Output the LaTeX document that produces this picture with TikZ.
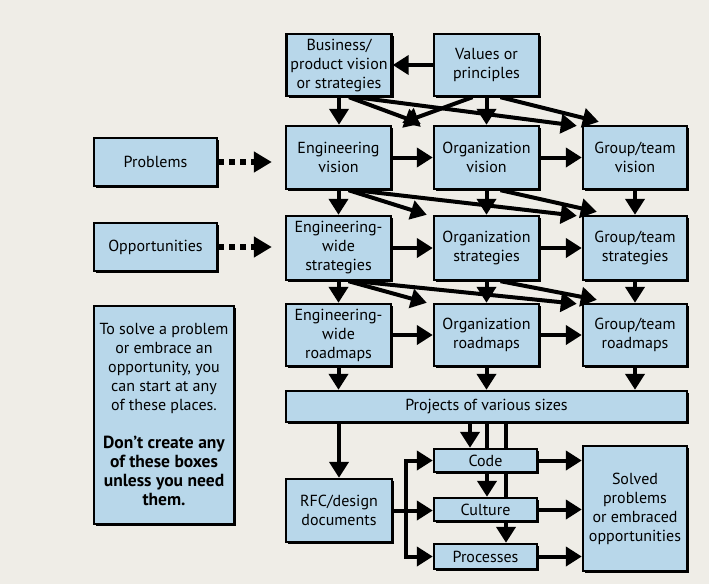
\documentclass[tikz,border=0pt]{standalone}
\usepackage{fontspec}
\setmainfont{PT Sans}
\usetikzlibrary{arrows.meta,shadows,backgrounds}
\pgfdeclarelayer{paper}
\pgfsetlayers{paper,background,main}
\definecolor{paperc}{HTML}{EFEDE7}
\definecolor{boxc}{HTML}{B8D7EA}
\newcommand\notebold[1]{{\fontsize{17.5}{19}\selectfont\bfseries #1}}
\begin{document}
\begin{tikzpicture}[x=1pt,y=-1pt,
  box/.style={draw=black, fill=boxc, line width=2.4pt, align=center, inner sep=0pt,
    font=\fontsize{16}{19}\selectfont,
    drop shadow={shadow xshift=2pt, shadow yshift=-2pt, fill=black, opacity=1}},
  sz/.style 2 args={minimum width=#1pt, minimum height=#2pt},
  arr/.style={line width=4pt, -{Triangle[width=19pt,length=16pt]}},
  dotarr/.style={line width=5.5pt, dash pattern=on 6pt off 5pt, -{Triangle[width=20pt,length=18pt]}}
]
\useasboundingbox (0,0) rectangle (709,584);
\begin{pgfonlayer}{paper}
  \fill[paperc] (0,0) rectangle (709,584);
\end{pgfonlayer}

% boxes
\node[box, sz={105}{62}] (bus) at (339,65) {Business/\\product vision\\or strategies};
\node[box, sz={105}{62}] (val) at (486.5,65) {Values or\\principles};
\node[box, sz={105}{63}] (ev) at (338.5,157.5) {Engineering\\vision};
\node[box, sz={105}{63}] (ov) at (486.5,157.5) {Organization\\vision};
\node[box, sz={104}{63}] (gv) at (635,157.5) {Group/team\\vision};
\node[box, sz={105}{64}] (es) at (338.5,248) {Engineering-\\wide\\strategies};
\node[box, sz={105}{64}] (os) at (486.5,248) {Organization\\strategies};
\node[box, sz={104}{64}] (gs) at (635,248) {Group/team\\strategies};
\node[box, sz={105}{62}] (er) at (338.5,335) {Engineering-\\wide\\roadmaps};
\node[box, sz={105}{62}] (or) at (486.5,335) {Organization\\roadmaps};
\node[box, sz={104}{62}] (gr) at (635,335) {Group/team\\roadmaps};
\node[box, sz={401}{31}] (proj) at (486.5,406.5) {Projects of various sizes};
\node[box, sz={103}{23}] (code) at (485.5,460.5) {Code};
\node[box, sz={103}{23}] (cult) at (485.5,509.5) {Culture};
\node[box, sz={103}{25}] (proc) at (485.5,556.5) {Processes};
\node[box, sz={106}{63}] (rfc) at (339,510.5) {RFC/design\\documents};
\node[box, sz={104}{125}] (solved) at (635,508.5) {Solved\\problems\\or embraced\\opportunities};
\node[box, sz={123}{48}] (prob) at (155.5,162) {Problems};
\node[box, sz={123}{48}] (opp) at (155.5,247) {Opportunities};
\node[box, sz={140}{218}] (note) at (164,415) {To solve a problem\\or embrace an\\opportunity, you\\can start at any\\of these places.\\[19pt]
  \notebold{Don’t create any}\\\notebold{of these boxes}\\\notebold{unless you need}\\\notebold{them.}};

% dotted arrows
\draw[dotarr, shorten >=13pt] (prob.east) -- (prob.east -| ev.west);
\draw[dotarr, shorten >=13pt] (opp.east) -- (opp.east -| es.west);

% top rows
\draw[arr] (val.west) -- (bus.east);
\draw[arr] (bus.south) -- (bus.south |- ev.north);
\draw[arr] (val.south) -- (val.south |- ov.north);
\draw[arr] ([xshift=10pt]bus.south) -- ([xshift=-12pt,yshift=1pt]ov.north west);
\draw[arr] ([xshift=-14pt]val.south) -- ([xshift=10pt,yshift=2pt]ev.north east);
\draw[arr] ([xshift=17pt]bus.south) -- ([xshift=-5pt,yshift=-1pt]gv.north west);
\draw[arr] ([xshift=14pt]val.south) -- ([xshift=17pt,yshift=3pt]gv.north west);

% vision row
\draw[arr] (ev.east) -- (ov.west);
\draw[arr] (ov.east) -- (gv.west);
\draw[arr] (ev.south) -- (es.north);
\draw[arr] (ov.south) -- (os.north);
\draw[arr] (gv.south) -- (gs.north);
\draw[arr] ([xshift=10pt]ev.south) -- ([xshift=-6pt]os.north west);
\draw[arr] ([xshift=17pt]ev.south) -- ([xshift=-5pt,yshift=-1pt]gs.north west);
\draw[arr] ([xshift=14pt]ov.south) -- ([xshift=15pt,yshift=3pt]gs.north west);

% strategies row
\draw[arr] (es.east) -- (os.west);
\draw[arr] (os.east) -- (gs.west);
\draw[arr] (es.south) -- (er.north);
\draw[arr] (os.south) -- (or.north);
\draw[arr] (gs.south) -- (gr.north);
\draw[arr] ([xshift=10pt]es.south) -- ([xshift=-6pt]or.north west);
\draw[arr] ([xshift=17pt]es.south) -- ([xshift=-5pt,yshift=-1pt]gr.north west);
\draw[arr] ([xshift=14pt]os.south) -- ([xshift=15pt,yshift=3pt]gr.north west);

% roadmaps row
\draw[arr] (er.east) -- (or.west);
\draw[arr] (or.east) -- (gr.west);
\draw[arr] (er.south) -- (er.south |- proj.north);
\draw[arr] (or.south) -- (or.south |- proj.north);
\draw[arr] (gr.south) -- (gr.south |- proj.north);

% projects
\draw[arr] (proj.south -| rfc.north) -- (rfc.north);
\coordinate (c0) at ([xshift=-15.5pt]code.north);
\draw[arr] (proj.south -| c0) -- (c0);
\coordinate (c1) at ([xshift=1.5pt]cult.north);
\coordinate (c2) at ([xshift=20.5pt]proc.north);
\begin{pgfonlayer}{background}
  \draw[arr] (proj.south -| c1) -- (c1);
  \draw[arr] (proj.south -| c2) -- (c2);
\end{pgfonlayer}

% RFC branches
\coordinate (br) at (406,510.5);
\draw[line width=4pt] (rfc.east) -- (br);
\draw[arr] (br) |- (code.west);
\draw[arr] (br) -- (br -| cult.west);
\draw[arr] (br) |- (proc.west);

% to solved
\draw[arr] (code.east) -- (code.east -| solved.west);
\draw[arr] (cult.east) -- (cult.east -| solved.west);
\draw[arr] (proc.east) -- (proc.east -| solved.west);
\end{tikzpicture}
\end{document}
